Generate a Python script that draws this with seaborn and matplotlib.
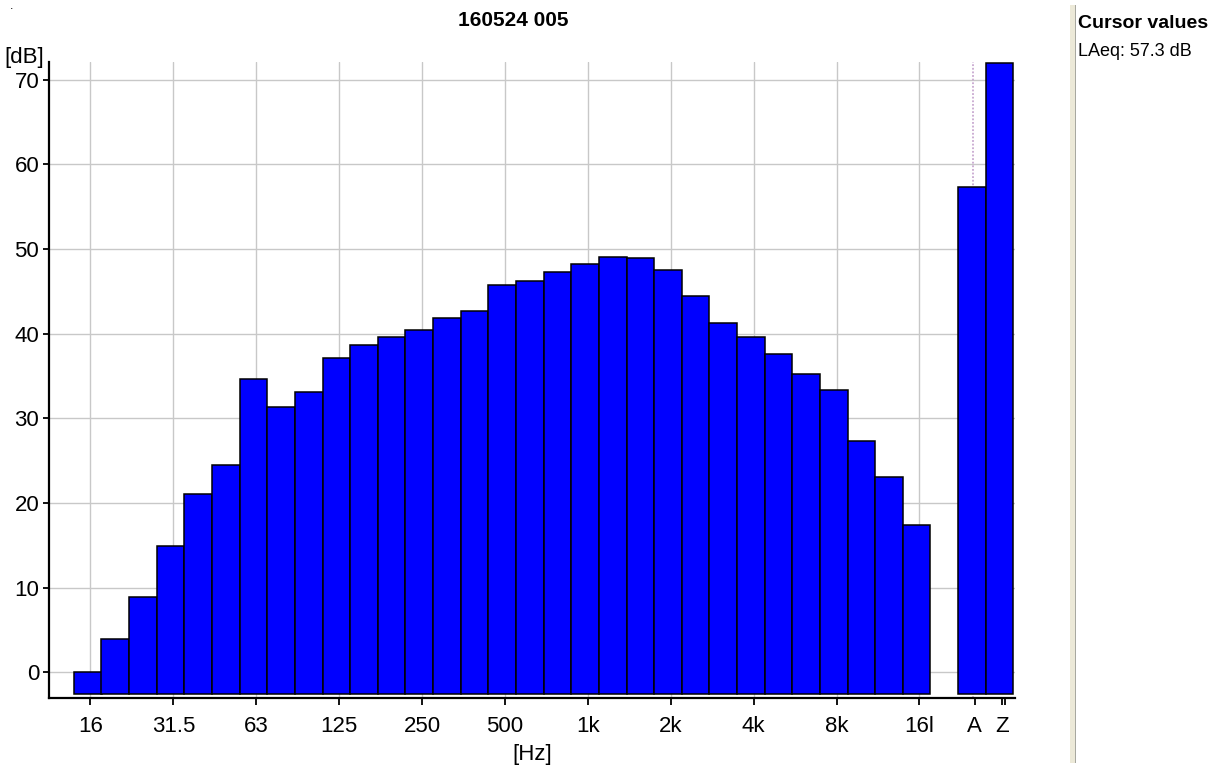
import numpy as np
import pandas as pd
import matplotlib
matplotlib.use("Agg")
import matplotlib.pyplot as plt
from matplotlib.patches import Rectangle
import seaborn as sns

# ---- data ----
bands = ['16', '20', '25', '31.5', '40', '50', '63', '80', '100', '125', '160',
         '200', '250', '315', '400', '500', '630', '800', '1k', '1.25k', '1.6k',
         '2k', '2.5k', '3.15k', '4k', '5k', '6.3k', '8k', '10k', '12.5k', '16k',
         'A', 'Z']
levels = [0.0, 4.0, 8.9, 14.9, 21.1, 24.5, 34.6, 31.3, 33.1, 37.1, 38.7,
          39.6, 40.4, 41.8, 42.7, 45.7, 46.2, 47.3, 48.2, 49.05, 48.9,
          47.5, 44.4, 41.2, 39.6, 37.6, 35.2, 33.3, 27.3, 23.1, 17.4,
          57.3, 72.0]
slot_order = bands[:31] + ['gap'] + bands[31:]
tick_bands = ['16', '31.5', '63', '125', '250', '500', '1k', '2k', '4k', '8k', '16k', 'A', 'Z']
tick_labels = ['16', '31.5', '63', '125', '250', '500', '1k', '2k', '4k', '8k', '16l', 'A', 'Z']
y_ticks = [0, 10, 20, 30, 40, 50, 60, 70]
bar_base = -2.55
title = '160524 005'
cursor_title = 'Cursor values'
cursor_text = 'LAeq: 57.3 dB'

df = pd.DataFrame({'band': bands, 'level': levels})

sns.set_theme(style='white')
plt.rcParams['font.family'] = ['Liberation Sans Narrow', 'Liberation Sans', 'DejaVu Sans']

W, H = 1225, 768
fig = plt.figure(figsize=(W / 100, H / 100), dpi=100)
ax = fig.add_axes([49 / W, (H - 698) / H, (1015 - 49) / W, (698 - 62) / H])

sns.barplot(data=df, x='band', y='level', order=slot_order, color='#0000ff',
            saturation=1, edgecolor='black', linewidth=1.1, width=1.0,
            errorbar=None, ax=ax, zorder=3)
# bars in the analyser start below the axis floor, not at 0 dB
for p in ax.patches:
    top = p.get_y() + p.get_height()
    p.set_y(bar_base)
    p.set_height(top - bar_base)

ax.set_xlim(-1.40, 33.56)
ax.set_ylim(-3.02, 72.07)

off = 0.1
tick_pos = [slot_order.index(b) + off for b in tick_bands]
ax.set_xticks(tick_pos, tick_labels)
ax.set_xticks([slot_order.index('Z') + off + 0.08], minor=True)
ax.set_yticks(y_ticks, [str(v) for v in y_ticks])

# grid
for yv in y_ticks:
    ax.axhline(yv, color='#c8c8c8', lw=1.0, zorder=0)
for p in tick_pos[:11]:
    ax.axvline(p, color='#c8c8c8', lw=1.0, zorder=0)
ax.axvline(tick_pos[11] - 0.05, color='#c8a8d0', lw=1.3, ls=(0, (1, 1)), zorder=0)

for s in ['top', 'right']:
    ax.spines[s].set_visible(False)
for s in ['left', 'bottom']:
    ax.spines[s].set_color('black')
    ax.spines[s].set_linewidth(1.6)

ax.tick_params(axis='x', which='both', direction='out', length=5, width=1.3,
               color='black', pad=8, labelsize=16, labelcolor='black', bottom=True)
ax.tick_params(axis='y', direction='out', length=4, width=1.3, color='black',
               pad=3, labelsize=16, labelcolor='black', left=True)

ax.set_xlabel('[Hz]', fontsize=16, color='black', labelpad=5)
ax.set_ylabel('')

fig.text(44 / W, 1 - 58 / H, '[dB]', ha='right', va='center', fontsize=16, color='black')
fig.text(513 / W, 1 - 21 / H, title, ha='center', va='center', fontsize=15,
         fontweight='bold', family=['Liberation Sans', 'DejaVu Sans'], color='black')
fig.text(1078 / W, 1 - 23 / H, cursor_title, ha='left', va='center', fontsize=14,
         fontweight='bold', family=['Liberation Sans', 'DejaVu Sans'], color='black')
fig.text(1078 / W, 1 - 51 / H, cursor_text, ha='left', va='center', fontsize=13,
         family=['Liberation Sans', 'DejaVu Sans'], color='black')
fig.text(12 / W, 1 - 6 / H, '.', ha='center', va='center', fontsize=9, color='black')

fig.add_artist(Rectangle((1070 / W, 5 / H), 5 / W, 758 / H, transform=fig.transFigure,
                         facecolor='#ece9d8', edgecolor='none'))
fig.add_artist(Rectangle((1075 / W, 5 / H), 1.2 / W, 758 / H, transform=fig.transFigure,
                         facecolor='#a8a8a0', edgecolor='none'))

fig.savefig('out.png', dpi=100)
